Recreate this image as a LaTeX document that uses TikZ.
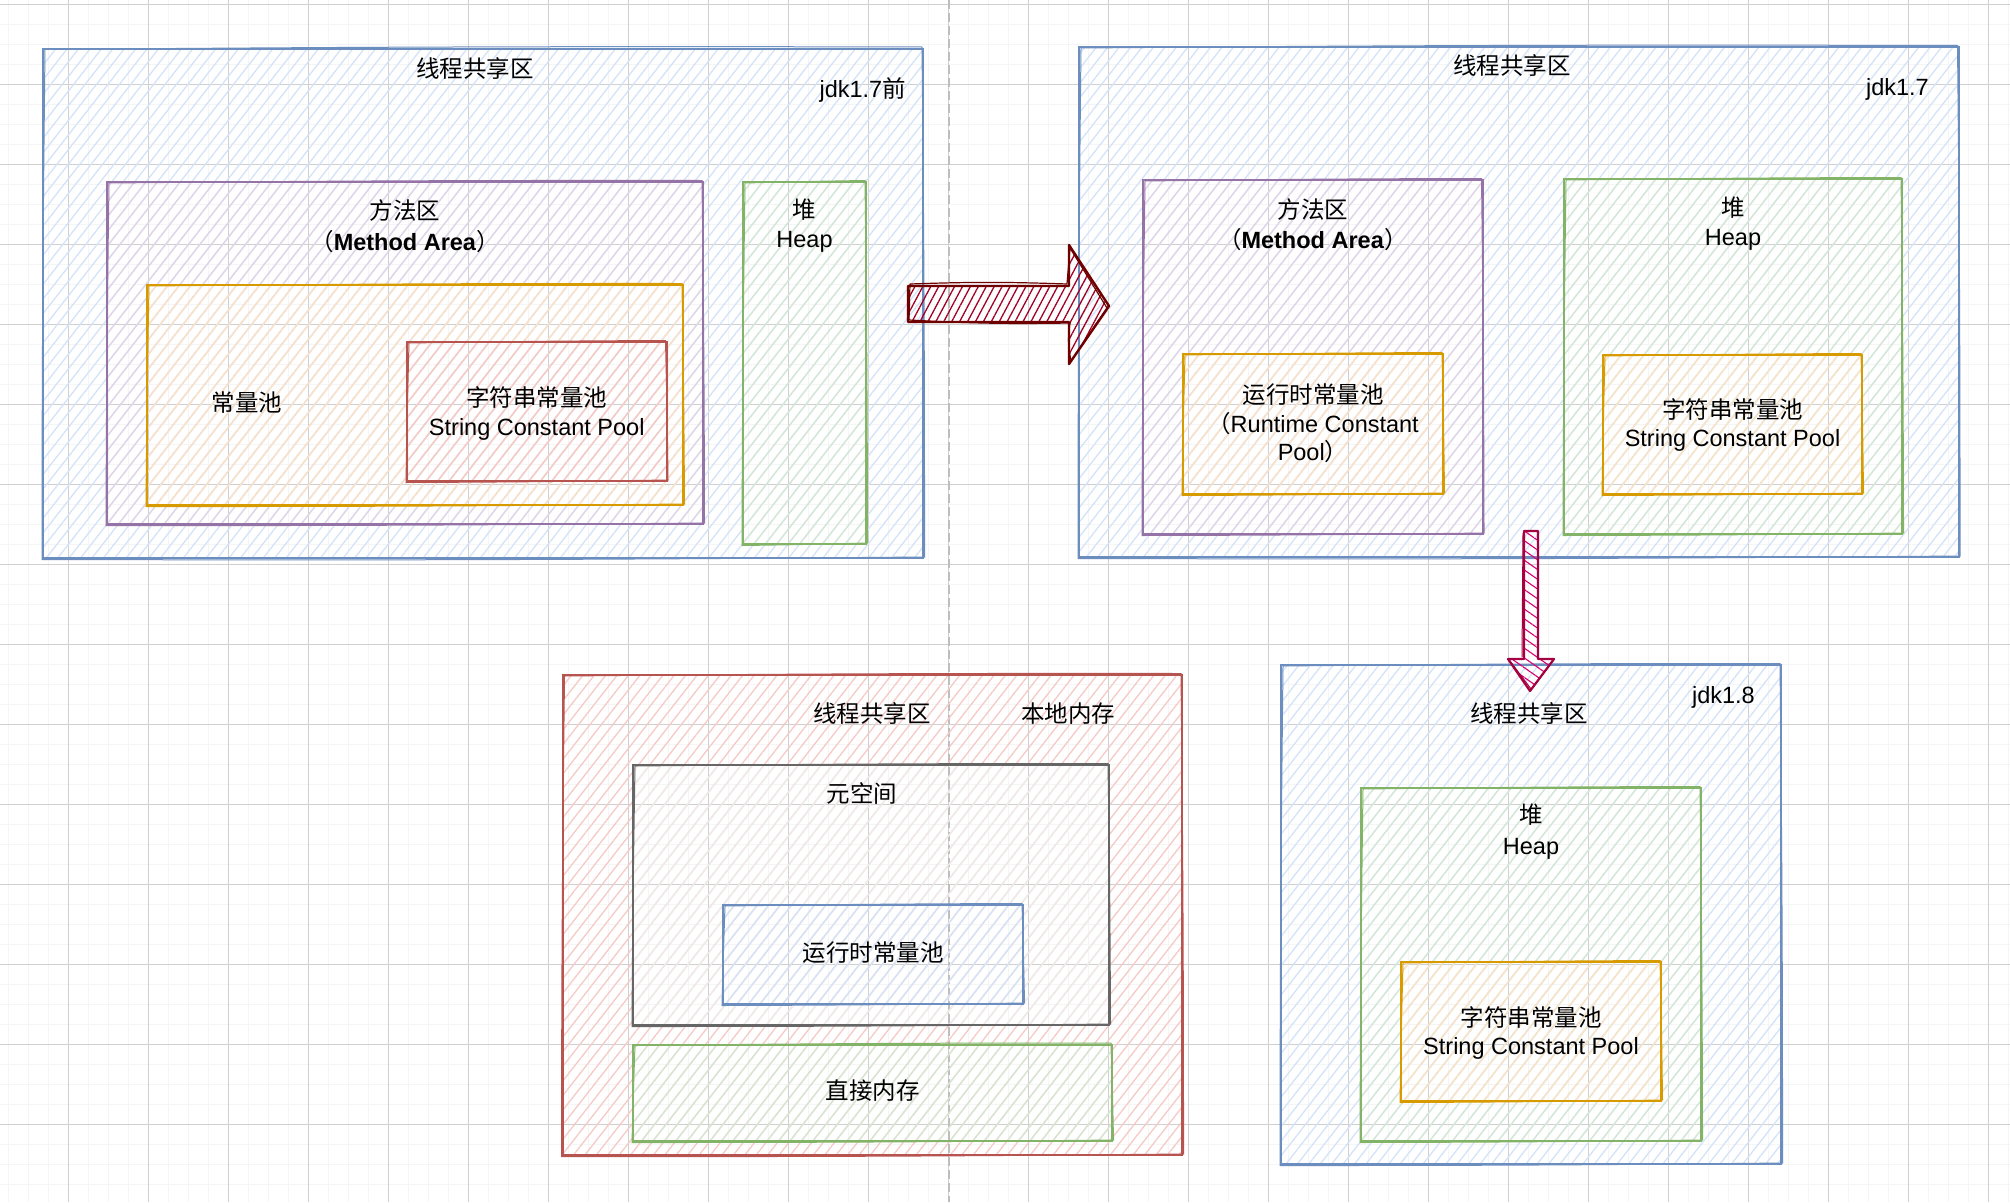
\documentclass[tikz,border=0pt]{standalone}
\usepackage{fontspec}
\setmainfont{Liberation Sans}
\newfontfamily\cjk{Noto Sans CJK SC}
\usetikzlibrary{patterns.meta,calc}
\definecolor{blueS}{HTML}{6C8EBF}\definecolor{blueF}{HTML}{D4E3F8}
\definecolor{purS}{HTML}{9673A6}\definecolor{purF}{HTML}{E1D5E7}
\definecolor{orS}{HTML}{D79B00}\definecolor{orF}{HTML}{FCE3C6}
\definecolor{redS}{HTML}{B85450}\definecolor{redF}{HTML}{F5CAC7}
\definecolor{grnS}{HTML}{82B366}\definecolor{grnF}{HTML}{D5E8D4}
\definecolor{gryS}{HTML}{666666}\definecolor{gryF}{HTML}{EDEDED}
\definecolor{darkredS}{HTML}{6F0000}\definecolor{darkredF}{HTML}{A20025}
\definecolor{magS}{HTML}{A50040}\definecolor{magF}{HTML}{D80073}
\definecolor{gridMinor}{HTML}{F5F5F5}\definecolor{gridMajor}{HTML}{D0D0D0}
\tikzset{
  box/.style={draw, line width=2pt, inner sep=0pt, outer sep=0pt},
  hatchbox/.style 2 args={box, draw=#1, pattern={Lines[angle=52,distance=9pt,line width=1.3pt]}, pattern color=#2},
  bluebox/.style={hatchbox={blueS}{blueF}},
  purbox/.style={hatchbox={purS}{purF}},
  orbox/.style={hatchbox={orS}{orF}},
  redbox/.style={hatchbox={redS}{redF}},
  grnbox/.style={hatchbox={grnS}{grnF}},
  grybox/.style={hatchbox={gryS}{gryF}},
  txt/.style={font=\fontsize{23.5}{29}\selectfont, text=black, inner sep=0pt, anchor=base},
}
\newcommand\skpass[2]{%
  \draw[draw=#2, line width=1pt] ([shift={(2,1)}]#1.north west) to[bend left=0.3] ([shift={(-1,-1.5)}]#1.north east) to[bend left=0.3] ([shift={(1.5,-1)}]#1.south east) to[bend left=0.3] ([shift={(-1,1.5)}]#1.south west) to[bend left=0.3] ([shift={(2,1)}]#1.north west);}
\begin{document}
\begin{tikzpicture}[x=1pt,y=-1pt]
\useasboundingbox (0,0) rectangle (2010,1202);
\fill[white] (0,0) rectangle (2010,1202);
% grid
\foreach \x in {8.3,28.3,...,2010} \draw[gridMinor, line width=1.5pt] (\x,0) -- (\x,1202);
\foreach \y in {4.3,24.3,...,1202} \draw[gridMinor, line width=1.5pt] (0,\y) -- (2010,\y);
\foreach \x in {68.3,148.3,...,2010} \draw[gridMajor, line width=1pt] (\x,0) -- (\x,1202);
\foreach \y in {4.3,84.3,...,1202} \draw[gridMajor, line width=1pt] (0,\y) -- (2010,\y);
\draw[color={rgb,255:red,190;green,190;blue,190}, line width=1.6pt, dash pattern=on 9pt off 4pt] (949,0) -- (949,1202);

% block 1 : jdk1.7 before
\node[bluebox, minimum width=880, minimum height=509.5] (b1) at (483,303.25) {};
\skpass{b1}{blueS}
\node[purbox, minimum width=596, minimum height=342] (ma1) at (405,353) {};
\skpass{ma1}{purS}
\node[orbox, minimum width=536, minimum height=220] (cp1) at (415,395) {};
\skpass{cp1}{orS}
\node[redbox, minimum width=259.5, minimum height=139] (sp1) at (536.75,411.5) {};
\skpass{sp1}{redS}
\node[grnbox, minimum width=123, minimum height=362] (hp1) at (804.5,363) {};
\skpass{hp1}{grnS}
\node[txt] (t1) at (475,77.5) {\cjk 线程共享区};
\node[txt, anchor=base east] (j1) at (906,97.5) {jdk1.7{\cjk 前}};
\node[txt] (ma1a) at (405,219.5) {\cjk 方法区};
\node[txt] (ma1b) at (405,250.5) {{\cjk （}\textbf{Method Area}{\cjk ）}};
\node[txt] (cp1t) at (247,411.5) {\cjk 常量池};
\node[txt] (sp1a) at (536.75,406.5) {\cjk 字符串常量池};
\node[txt] (sp1b) at (536.75,435.5) {String Constant Pool};
\node[txt] (hp1a) at (804.5,218.5) {\cjk 堆};
\node[txt] (hp1b) at (804.5,247.5) {Heap};

% block 2 : jdk1.7
\node[bluebox, minimum width=879.5, minimum height=510] (b2) at (1518.75,302) {};
\skpass{b2}{blueS}
\node[purbox, minimum width=339.5, minimum height=354] (ma2) at (1312.75,357) {};
\skpass{ma2}{purS}
\node[orbox, minimum width=260, minimum height=140] (rc2) at (1313,424) {};
\skpass{rc2}{orS}
\node[grnbox, minimum width=338, minimum height=355] (hp2) at (1733,356.5) {};
\skpass{hp2}{grnS}
\node[orbox, minimum width=259, minimum height=139] (sp2) at (1732.5,424.5) {};
\skpass{sp2}{orS}
\node[txt] (t2) at (1512,74.5) {\cjk 线程共享区};
\node[txt, anchor=base east] (j2) at (1929,95.5) {jdk1.7};
\node[txt] (ma2a) at (1312.75,218.5) {\cjk 方法区};
\node[txt] (ma2b) at (1312.75,248.5) {{\cjk （}\textbf{Method Area}{\cjk ）}};
\node[txt] (rc2a) at (1313,403.5) {\cjk 运行时常量池};
\node[txt] (rc2b) at (1313,432.5) {{\cjk （}Runtime Constant};
\node[txt] (rc2c) at (1313,460) {Pool{\cjk ）}};
\node[txt] (hp2a) at (1733,216.5) {\cjk 堆};
\node[txt] (hp2b) at (1733,245.5) {Heap};
\node[txt] (sp2a) at (1732.5,418) {\cjk 字符串常量池};
\node[txt] (sp2b) at (1732.5,446.5) {String Constant Pool};

% block 3 : native memory
\node[redbox, minimum width=619.5, minimum height=480] (b3) at (872.25,915) {};
\skpass{b3}{redS}
\node[grybox, minimum width=476, minimum height=260] (ms) at (871,895) {};
\skpass{ms}{gryS}
\node[bluebox, minimum width=300, minimum height=99] (rc3) at (873,954.5) {};
\skpass{rc3}{blueS}
\node[grnbox, minimum width=479, minimum height=96.5] (dm) at (872.5,1092.75) {};
\skpass{dm}{grnS}
\node[txt] (t3) at (872,722.5) {\cjk 线程共享区};
\node[txt] (n3) at (1068,722.5) {\cjk 本地内存};
\node[txt] (mst) at (862,802.5) {\cjk 元空间};
\node[txt] (rc3t) at (873,961.5) {\cjk 运行时常量池};
\node[txt] (dmt) at (872.5,1099.5) {\cjk 直接内存};

% block 4 : jdk1.8
\node[bluebox, minimum width=500, minimum height=499] (b4) at (1531,914.5) {};
\skpass{b4}{blueS}
\node[grnbox, minimum width=340, minimum height=353] (hp4) at (1531,964.5) {};
\skpass{hp4}{grnS}
\node[orbox, minimum width=260, minimum height=139] (sp4) at (1531,1031.5) {};
\skpass{sp4}{orS}
\node[txt, anchor=base east] (j4) at (1755,703.5) {jdk1.8};
\node[txt] (t4) at (1529,722.5) {\cjk 线程共享区};
\node[txt] (hp4a) at (1531,823.5) {\cjk 堆};
\node[txt] (hp4b) at (1531,854.5) {Heap};
\node[txt] (sp4a) at (1531,1026) {\cjk 字符串常量池};
\node[txt] (sp4b) at (1531,1054.5) {String Constant Pool};

% arrow 1 (b1 -> b2)
\coordinate (a1s) at (908,304);
\coordinate (a1e) at (1109,306);
\path[pattern={Lines[angle=62,distance=7pt,line width=1.3pt]}, pattern color=darkredF]
  ($(a1s)+(0,-18)$) -- (1069,286) -- (1069,245) -- (a1e) -- (1069,364) -- (1069,322) -- ($(a1s)+(0,18)$) -- cycle;
\draw[darkredS, line width=2.4pt, line join=round]
  ($(a1s)+(0,-18)$) -- (1069,286) -- (1069,245) -- (a1e) -- (1069,364) -- (1069,322) -- ($(a1s)+(0,18)$) -- cycle;
\draw[darkredS, line width=1.2pt, line join=round]
  ($(a1s)+(2,-20)$) to[bend left=2] (1067,284) -- (1070,248) -- ($(a1e)+(-2,2)$) -- (1071,361) to[bend left=10] (1070,323) to[bend left=2] ($(a1s)+(1,16)$) -- cycle;

% arrow 2 (b2 -> b4)
\coordinate (a2s) at (1531,531);
\coordinate (a2e) at (1530,691);
\path[pattern={Lines[angle=-35,distance=8pt,line width=1.1pt]}, pattern color=magF]
  ($(a2s)+(-7,0)$) -- ($(a2s)+(7,0)$) -- (1538,659) -- (1554,659) -- (a2e) -- (1508,659) -- (1524,659) -- cycle;
\draw[magS, line width=2.2pt, line join=round]
  ($(a2s)+(-7,0)$) -- ($(a2s)+(7,0)$) -- (1538,659) -- (1554,659) -- (a2e) -- (1508,659) -- (1524,659) -- cycle;
\draw[magS, line width=1pt]
  ($(a2s)+(-8,2)$) -- (1522,657) (1510,661) -- ($(a2e)+(1,-2)$);
\end{tikzpicture}
\end{document}
